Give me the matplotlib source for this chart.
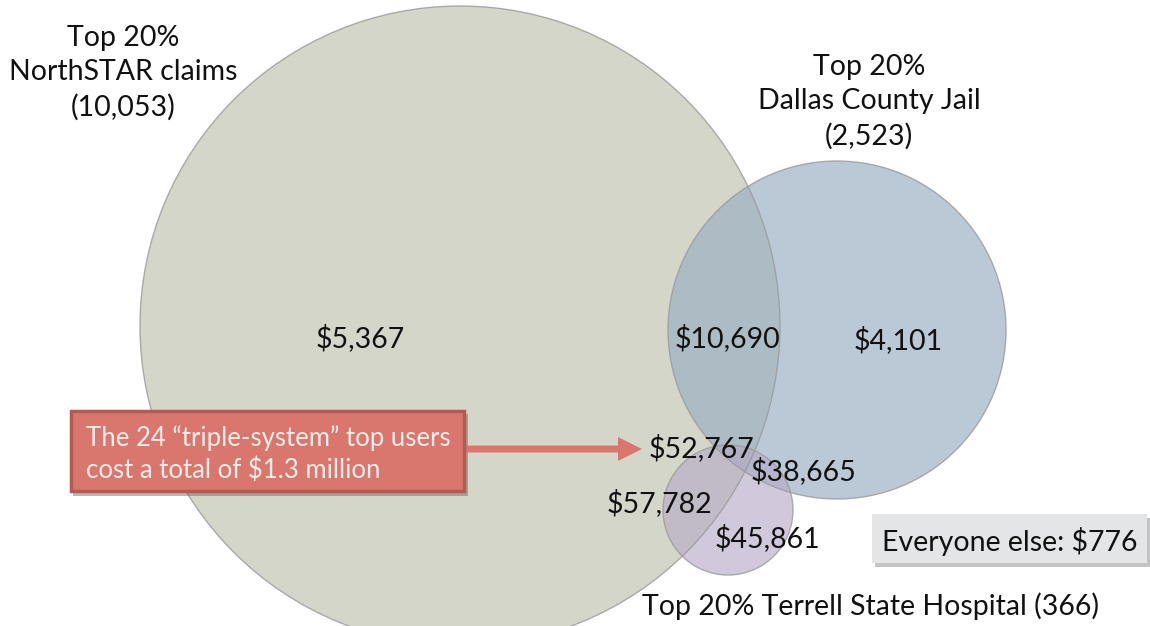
import matplotlib.pyplot as plt
from matplotlib.patches import Circle, Rectangle, FancyArrow

plt.rcParams['font.family'] = ['Lato', 'DejaVu Sans']

# groups (top 20% users of each system) and their sizes
groups = ['NorthSTAR claims', 'Dallas County Jail', 'Terrell State Hospital']
counts = [10053, 2523, 366]

# average cost per person in each region of the diagram
region_names = ['NorthSTAR only', 'NorthSTAR + Jail', 'Jail only',
                'all three', 'Jail + Terrell', 'NorthSTAR + Terrell', 'Terrell only']
region_costs = [5367, 10690, 4101, 52767, 38665, 57782, 45861]
everyone_else = 776
triple_users = 24
triple_total = '$1.3 million'

# layout (pixels, y downwards)
circle_xy = [(460, 326), (837, 330), (728, 510)]
circle_r = [320, 169, 65]
circle_fc = ['#d5d6ca', '#99adc3', '#b6a9c6']
circle_alpha = [1.0, 0.66, 0.62]
region_xy = [(360, 338), (728, 338), (898, 340), (702, 448),
             (804, 471), (660, 503), (767, 538)]

fig = plt.figure(figsize=(11.5, 6.26), dpi=100)
ax = fig.add_axes([0, 0, 1, 1])
ax.set_xlim(0, 1150)
ax.set_ylim(626, 0)
ax.set_aspect('equal')
ax.axis('off')

for (x, y), r, fc, a in zip(circle_xy, circle_r, circle_fc, circle_alpha):
    ax.add_patch(Circle((x, y), r, facecolor=fc, alpha=a, edgecolor='none', zorder=1))
    ax.add_patch(Circle((x, y), r, facecolor='none', edgecolor='#9a9a9a',
                        linewidth=1.0, alpha=0.8, zorder=2))

fs = 20.5
for (x, y), v in zip(region_xy, region_costs):
    ax.text(x, y, f'${v:,}', ha='center', va='center', fontsize=fs,
            color='#111111', zorder=5)

ax.text(123, 73, f'Top 20%\n{groups[0]}\n({counts[0]:,})', ha='center', va='center',
        fontsize=fs, color='#111111', linespacing=1.4)
ax.text(869, 102, f'Top 20%\n{groups[1]}\n({counts[1]:,})', ha='center', va='center',
        fontsize=fs, color='#111111', linespacing=1.4)
ax.text(870, 606, f'Top 20% {groups[2]} ({counts[2]:,})', ha='center', va='center',
        fontsize=fs, color='#111111')

# "everyone else" box with shadow
ax.add_patch(Rectangle((875, 518), 275, 49, facecolor='#8a8a8a', alpha=0.5,
                       edgecolor='none', zorder=3))
ax.add_patch(Rectangle((872, 514), 275, 49, facecolor='#e3e5e6',
                       edgecolor='none', zorder=4))
ax.text(1010, 541, f'Everyone else: ${everyone_else:,}', ha='center', va='center',
        fontsize=fs, color='#111111', zorder=5)

# red callout box with arrow
ax.add_patch(Rectangle((73, 414), 395, 82, facecolor='#7a5a55', alpha=0.45,
                       edgecolor='none', zorder=6))
ax.add_patch(Rectangle((71, 411), 393, 80, facecolor='#d9776f',
                       edgecolor='#b35a53', linewidth=2.5, zorder=7))
ax.text(86, 454, f'The {triple_users} \u201ctriple-system\u201d top users\n'
        f'cost a total of {triple_total}', ha='left', va='center',
        fontsize=18.5, color='#f8ede8', linespacing=1.35, zorder=8)
ax.add_patch(FancyArrow(465, 449, 177, 0, width=7, head_width=24, head_length=24,
                        length_includes_head=True, facecolor='#d9776f',
                        edgecolor='none', zorder=6))

fig.savefig('out.png', dpi=100)
